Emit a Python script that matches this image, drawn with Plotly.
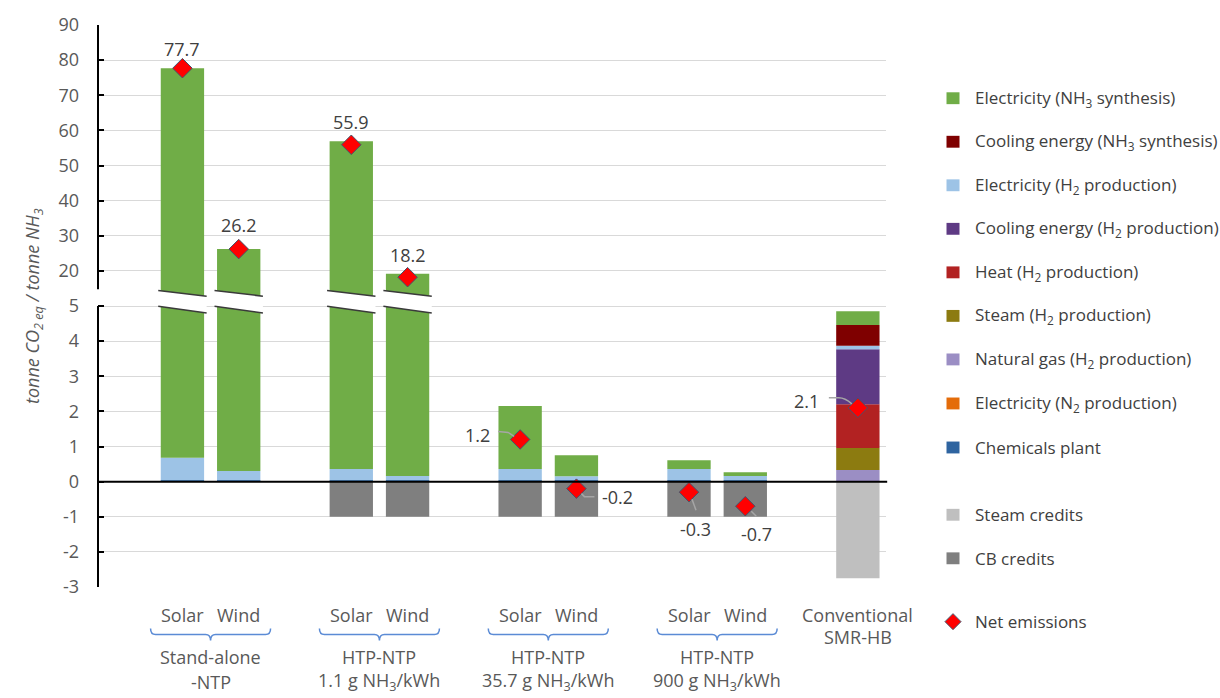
import plotly.graph_objects as go

# ---------------------------------------------------------------- data
bar_names = ["Solar", "Wind", "Solar", "Wind", "Solar", "Wind", "Solar", "Wind", "Conventional"]
group_of_bar = [0, 0, 1, 1, 2, 2, 3, 3, None]
group_lines = [
    ("Stand-alone", "-NTP"),
    ("HTP-NTP", "1.1 g NH<sub>3</sub>/kWh"),
    ("HTP-NTP", "35.7 g NH<sub>3</sub>/kWh"),
    ("HTP-NTP", "900 g NH<sub>3</sub>/kWh"),
]
conventional_lines = ("Conventional", "SMR-HB")

# emissions by source, tonne CO2eq / tonne NH3
chemicals_plant = [0.04, 0.04, 0.04, 0.04, 0.04, 0.04, 0.04, 0.04, 0.0]
electricity_n2  = [0.0, 0.0, 0.0, 0.0, 0.0, 0.0, 0.0, 0.0, 0.0]
natural_gas_h2  = [0.0, 0.0, 0.0, 0.0, 0.0, 0.0, 0.0, 0.0, 0.33]
steam_h2        = [0.0, 0.0, 0.0, 0.0, 0.0, 0.0, 0.0, 0.0, 0.63]
heat_h2         = [0.0, 0.0, 0.0, 0.0, 0.0, 0.0, 0.0, 0.0, 1.24]
cooling_h2      = [0.0, 0.0, 0.0, 0.0, 0.0, 0.0, 0.0, 0.0, 1.57]
electricity_h2  = [0.64, 0.26, 0.32, 0.12, 0.32, 0.11, 0.32, 0.12, 0.10]
cooling_nh3     = [0.0, 0.0, 0.0, 0.0, 0.0, 0.0, 0.0, 0.0, 0.59]
electricity_nh3 = [77.02, 25.9, 56.54, 19.04, 1.79, 0.60, 0.25, 0.11, 0.39]
steam_credits   = [0.0, 0.0, 0.0, 0.0, 0.0, 0.0, 0.0, 0.0, -2.75]
cb_credits      = [0.0, 0.0, -1.0, -1.0, -1.0, -1.0, -1.0, -1.0, 0.0]
net_emissions   = [77.7, 26.2, 55.9, 18.2, 1.2, -0.2, -0.3, -0.7, 2.1]

lower_ticks = [-3, -2, -1, 0, 1, 2, 3, 4, 5]
upper_ticks = [20, 30, 40, 50, 60, 70, 80, 90]

# ---------------------------------------------------------------- styling
FONT = "Open Sans"
AXIS_GREY = "#595959"
TEXT_GREY = "#404040"
W, H = 1220, 698
L, R, T, B = 98, 334, 19, 111
PLOT_W, PLOT_H = W - L - R, H - T - B

colors = {
    "elec_nh3": "#70AD47",
    "cool_nh3": "#7F0000",
    "elec_h2": "#9DC3E6",
    "cool_h2": "#5E3A84",
    "heat": "#B22222",
    "steam": "#8C7B10",
    "ng": "#9B8EC4",
    "elec_n2": "#E46C0A",
    "chem": "#2E64A0",
    "steam_cr": "#BFBFBF",
    "cb_cr": "#7F7F7F",
}

positive_stack = [  # bottom -> top
    ("Chemicals plant", chemicals_plant, colors["chem"]),
    ("Electricity (N<sub>2</sub> production)", electricity_n2, colors["elec_n2"]),
    ("Natural gas (H<sub>2</sub> production)", natural_gas_h2, colors["ng"]),
    ("Steam (H<sub>2</sub> production)", steam_h2, colors["steam"]),
    ("Heat (H<sub>2</sub> production)", heat_h2, colors["heat"]),
    ("Cooling energy (H<sub>2</sub> production)", cooling_h2, colors["cool_h2"]),
    ("Electricity (H<sub>2</sub> production)", electricity_h2, colors["elec_h2"]),
    ("Cooling energy (NH<sub>3</sub> synthesis)", cooling_nh3, colors["cool_nh3"]),
    ("Electricity (NH<sub>3</sub> synthesis)", electricity_nh3, colors["elec_nh3"]),
]
negative_stack = [
    ("CB credits", cb_credits, colors["cb_cr"]),
    ("Steam credits", steam_credits, colors["steam_cr"]),
]


def to_axis(v):
    """Broken y scale: linear up to 5, then one tenth of the value (20 -> 6, 90 -> 13)."""
    return v if v <= 5 else 4 + max(v, 10) / 10


def px_x(p):
    return (p - L) / PLOT_W


def px_y(p):
    return (T + PLOT_H - p) / PLOT_H


# slot positions on the x axis: one empty slot at the left and between groups
slot_of_bar = []
slot = 1
prev = group_of_bar[0]
for g in group_of_bar:
    if g != prev:
        slot += 1
    slot_of_bar.append(slot)
    slot += 1
    prev = g
n_slots = slot_of_bar[-1] + 1
BAR_W = 0.77

fig = go.Figure()

# stacked bars drawn with explicit bases on the broken scale
for stack in (positive_stack, negative_stack):
    running = [0.0] * len(bar_names)
    for name, vals, col in stack:
        base = [to_axis(r) for r in running]
        top = [to_axis(r + v) for r, v in zip(running, vals)]
        fig.add_trace(go.Bar(
            x=slot_of_bar, y=[t - b for t, b in zip(top, base)], base=base,
            width=BAR_W, marker=dict(color=col, line=dict(width=0)),
            name=name, showlegend=False, hoverinfo="skip",
        ))
        running = [r + v for r, v in zip(running, vals)]

totals = [sum(s[1][i] for s in positive_stack) for i in range(len(bar_names))]

# net emissions
fig.add_trace(go.Scatter(
    x=slot_of_bar, y=[to_axis(v) for v in net_emissions], mode="markers",
    marker=dict(symbol="diamond", size=15, color="#FF0000",
                line=dict(color="#44546A", width=1)),
    name="Net emissions", showlegend=False, hoverinfo="skip",
))

shapes = []
annotations = []

# axis break on the tall bars
for xi, tot in zip(slot_of_bar, totals):
    if tot <= 5:
        continue
    x0, x1 = xi - 0.43, xi + 0.43
    top_l, top_r, bot_l, bot_r = 5.44, 5.28, 4.99, 4.80
    shapes.append(dict(type="path", xref="x", yref="y", layer="above",
                       path=f"M {x0},{top_l} L {x1},{top_r} L {x1},{bot_r} L {x0},{bot_l} Z",
                       fillcolor="white", line=dict(width=0)))
    for yl, yr in ((top_l, top_r), (bot_l, bot_r)):
        shapes.append(dict(type="line", xref="x", yref="y", layer="above",
                           x0=x0, x1=x1, y0=yl, y1=yr,
                           line=dict(color="#3A3A3A", width=1.5)))

# zero line across the plot
shapes.append(dict(type="line", xref="paper", yref="y", layer="above",
                   x0=0, x1=1.0015, y0=0, y1=0, line=dict(color="black", width=2)))
# split y axis line
shapes.append(dict(type="line", xref="paper", yref="y", layer="above",
                   x0=0, x1=0, y0=-3, y1=5, line=dict(color="black", width=2)))
shapes.append(dict(type="line", xref="paper", yref="y", layer="above",
                   x0=0, x1=0, y0=5.48, y1=13, line=dict(color="black", width=2)))

# value labels and leader lines (pixel offsets from each diamond)
label_offsets = [(0, 19), (0, 24), (0, 23), (0, 22), (-43, 4), (41, -8), (6, -37), (11, -28), (-51, 7)]
leaders = {
    4: "M -22,8 L -12,7 L -6,3",
    5: "M 5,-5 L 8,-8 L 18,-8",
    6: "M 3,-7 L 7,-18",
    7: "M 6,-5 L 11,-10",
    8: "M -29,10 L -19,10 Q -13,10 -6,4",
}
for i, (xi, v) in enumerate(zip(slot_of_bar, net_emissions)):
    dx, dy = label_offsets[i]
    annotations.append(dict(x=xi, y=to_axis(v), xref="x", yref="y", text=f"{v:.1f}",
                            xanchor="center", yanchor="middle",
                            showarrow=False, xshift=dx, yshift=dy,
                            font=dict(family=FONT, size=18, color=TEXT_GREY)))
    if i in leaders:
        shapes.append(dict(type="path", xref="x", yref="y", layer="above",
                           xsizemode="pixel", ysizemode="pixel",
                           xanchor=xi, yanchor=to_axis(v), path=leaders[i],
                           line=dict(color="#A6A6A6", width=1.5)))

# category labels and group brackets
LABEL_FONT = dict(family=FONT, size=18, color=AXIS_GREY)
for i, (xi, nm) in enumerate(zip(slot_of_bar, bar_names)):
    if group_of_bar[i] is None:
        for line, yp in zip(conventional_lines, (615, 638)):
            annotations.append(dict(x=xi, y=px_y(yp), xref="x", yref="paper", text=line,
                                    xanchor="center", yanchor="middle",
                                    showarrow=False, font=LABEL_FONT))
    else:
        annotations.append(dict(x=xi, y=px_y(615), xref="x", yref="paper", text=nm,
                                xanchor="center", yanchor="middle",
                                showarrow=False, font=LABEL_FONT))

for g, lines in enumerate(group_lines):
    xs = [s for s, gg in zip(slot_of_bar, group_of_bar) if gg == g]
    xc = sum(xs) / len(xs)
    shapes.append(dict(type="path", xref="x", yref="paper",
                       xsizemode="pixel", ysizemode="pixel",
                       xanchor=xc, yanchor=px_y(635),
                       path="M -60,6 Q -60,0 -55,0 L -5,0 Q 0,0 0,-6 Q 0,0 5,0 L 55,0 Q 60,0 60,6",
                       line=dict(color="#5B8BD5", width=1.5)))
    for line, yp in zip(lines, (658, 683)):
        annotations.append(dict(x=xc, y=px_y(yp), xref="x", yref="paper", text=line,
                                xanchor="center", yanchor="middle",
                                showarrow=False, font=LABEL_FONT))

# y axis title
annotations.append(dict(x=px_x(33), y=px_y(303), xref="paper", yref="paper",
                        xanchor="center", yanchor="middle",
                        text="<i>tonne CO<sub>2 eq</sub> / tonne NH<sub>3</sub></i>",
                        textangle=-90, showarrow=False,
                        font=dict(family=FONT, size=18, color=AXIS_GREY)))

# legend drawn at the right
legend_items = [
    ("Electricity (NH<sub>3</sub> synthesis)", colors["elec_nh3"], "box"),
    ("Cooling energy (NH<sub>3</sub> synthesis)", colors["cool_nh3"], "box"),
    ("Electricity (H<sub>2</sub> production)", colors["elec_h2"], "box"),
    ("Cooling energy (H<sub>2</sub> production)", colors["cool_h2"], "box"),
    ("Heat (H<sub>2</sub> production)", colors["heat"], "box"),
    ("Steam (H<sub>2</sub> production)", colors["steam"], "box"),
    ("Natural gas (H<sub>2</sub> production)", colors["ng"], "box"),
    ("Electricity (N<sub>2</sub> production)", colors["elec_n2"], "box"),
    ("Chemicals plant", colors["chem"], "box"),
    ("Steam credits", colors["steam_cr"], "box"),
    ("CB credits", colors["cb_cr"], "box"),
    ("Net emissions", "#FF0000", "diamond"),
]
legend_rows = [93, 137, 181, 225, 269, 313, 357, 401.5, 446, 514, 558, 622]
for (txt, col, kind), yp in zip(legend_items, legend_rows):
    if kind == "box":
        shapes.append(dict(type="rect", xref="paper", yref="paper",
                           x0=px_x(946.5), x1=px_x(959.5), y0=px_y(yp + 6), y1=px_y(yp - 6),
                           fillcolor=col, line=dict(width=0)))
    else:
        shapes.append(dict(type="path", xref="paper", yref="paper",
                           xsizemode="pixel", ysizemode="pixel",
                           xanchor=px_x(953), yanchor=px_y(yp),
                           path="M -8,0 L 0,8 L 8,0 L 0,-8 Z",
                           fillcolor=col, line=dict(color="#44546A", width=1)))
    annotations.append(dict(x=px_x(973), y=px_y(yp), xref="paper", yref="paper",
                            xanchor="left", yanchor="middle", text=txt, showarrow=False,
                            font=dict(family=FONT, size=17, color=TEXT_GREY)))

tickvals = lower_ticks + [to_axis(v) for v in upper_ticks]
ticktext = [str(v) for v in lower_ticks] + [str(v) for v in upper_ticks]

fig.update_layout(
    width=W, height=H, autosize=False,
    margin=dict(l=L, r=R, t=T, b=B),
    paper_bgcolor="white", plot_bgcolor="white",
    barmode="overlay", showlegend=False,
    xaxis=dict(range=[-0.5, n_slots - 0.5], showgrid=False, zeroline=False,
               showticklabels=False, ticks="", showline=False, fixedrange=True),
    yaxis=dict(range=[-3, 13], tickvals=tickvals, ticktext=ticktext,
               showgrid=True, gridcolor="#D9D9D9", gridwidth=1, zeroline=False,
               showline=False, ticks="inside", ticklen=6, tickwidth=2, tickcolor="black",
               ticklabelstandoff=18,
               tickfont=dict(family=FONT, size=18, color=AXIS_GREY), fixedrange=True),
    shapes=shapes, annotations=annotations,
)

fig.write_html("out.html")
